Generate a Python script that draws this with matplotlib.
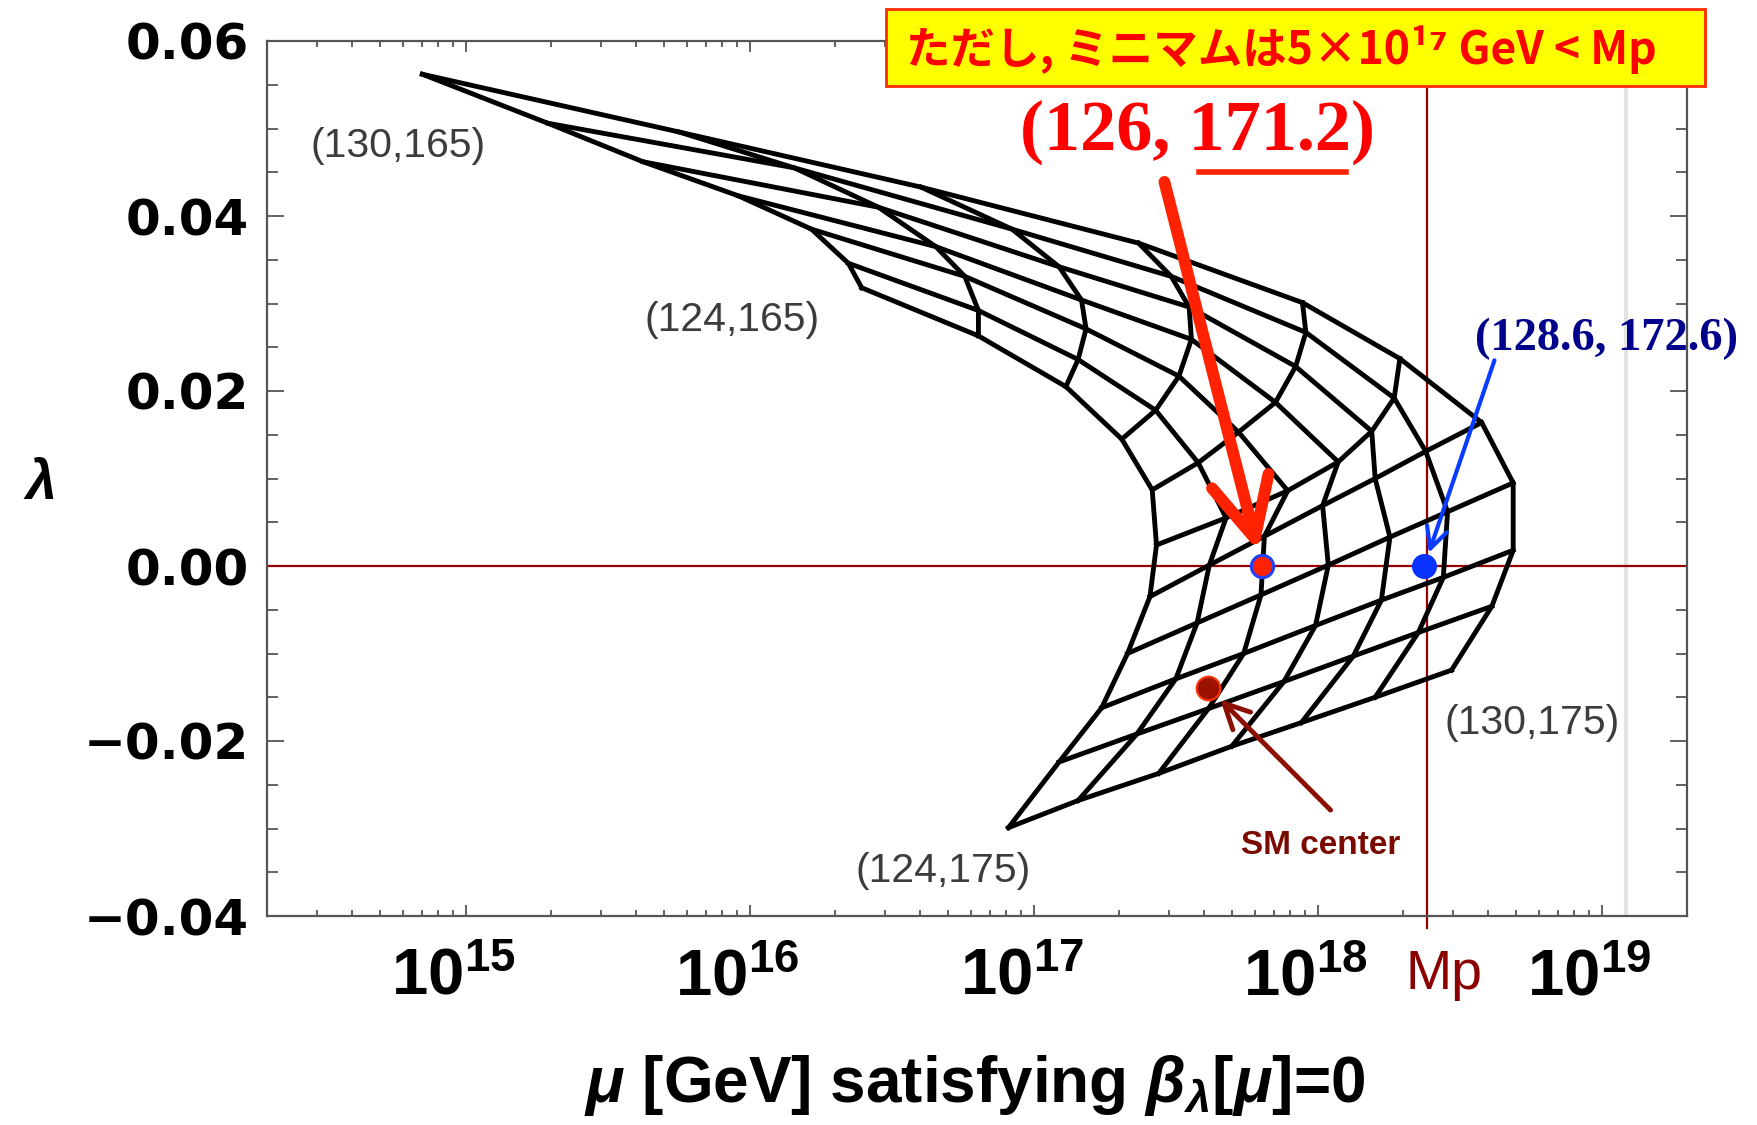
import numpy as np
import matplotlib
matplotlib.use("Agg")
import matplotlib.pyplot as plt
from matplotlib.ticker import FixedLocator, FixedFormatter, LogLocator, NullFormatter, MultipleLocator
from matplotlib.patches import Rectangle
from matplotlib.lines import Line2D
from matplotlib.transforms import ScaledTranslation

plt.rcParams['mathtext.fontset'] = 'custom'
plt.rcParams['mathtext.rm'] = 'Liberation Sans:bold'
plt.rcParams['mathtext.bf'] = 'Liberation Sans:bold'
plt.rcParams['mathtext.it'] = 'Liberation Sans:bold:italic'
plt.rcParams['mathtext.sf'] = 'Liberation Sans:bold'

# Scan of Higgs mass (columns) and top mass (rows), in GeV
higgs_mass = [124, 125, 126, 127, 128, 129, 130]
top_mass = [165, 166, 167, 168, 169, 170, 171, 172, 173, 174, 175]

# log10(mu/GeV) where beta_lambda(mu) = 0
log_mu = np.array([
    [16.395, 16.348, 16.218, 15.961, 15.625, 15.290, 14.848],
    [16.806, 16.806, 16.758, 16.656, 16.454, 16.158, 15.752],
    [17.114, 17.157, 17.185, 17.169, 17.090, 16.924, 16.604],
    [17.311, 17.430, 17.512, 17.556, 17.548, 17.485, 17.370],
    [17.418, 17.580, 17.722, 17.852, 17.923, 17.959, 17.947],
    [17.433, 17.678, 17.895, 18.073, 18.191, 18.270, 18.290],
    [17.410, 17.619, 17.813, 18.018, 18.203, 18.381, 18.578],
    [17.331, 17.576, 17.801, 18.038, 18.255, 18.458, 18.689],
    [17.240, 17.501, 17.740, 17.993, 18.225, 18.443, 18.689],
    [17.090, 17.364, 17.616, 17.882, 18.126, 18.355, 18.614],
    [16.912, 17.157, 17.441, 17.698, 17.943, 18.203, 18.472],
])

# lambda at that scale
lam_min = np.array([
    [0.0318, 0.0346, 0.0385, 0.0423, 0.0462, 0.0506, 0.0562],
    [0.0263, 0.0292, 0.0331, 0.0365, 0.0410, 0.0455, 0.0496],
    [0.0205, 0.0236, 0.0271, 0.0304, 0.0342, 0.0385, 0.0433],
    [0.0145, 0.0178, 0.0217, 0.0259, 0.0296, 0.0331, 0.0369],
    [0.0087, 0.0118, 0.0153, 0.0187, 0.0228, 0.0267, 0.0301],
    [0.0024, 0.0055, 0.0086, 0.0119, 0.0154, 0.0192, 0.0237],
    [-0.0035, 0.0001, 0.0034, 0.0069, 0.0100, 0.0131, 0.0164],
    [-0.0100, -0.0065, -0.0033, 0.0001, 0.0033, 0.0062, 0.0095],
    [-0.0162, -0.0129, -0.0100, -0.0068, -0.0039, -0.0013, 0.0018],
    [-0.0224, -0.0192, -0.0163, -0.0132, -0.0103, -0.0076, -0.0046],
    [-0.0299, -0.0268, -0.0237, -0.0206, -0.0179, -0.0150, -0.0119],
])

# Highlighted parameter points: (log10 mu, lambda)
ref_point_log_mu, ref_point_lam = 17.804, 0.0        # (126, 171.2)
alt_point_log_mu, alt_point_lam = 18.376, 0.0        # (128.6, 172.6)
sm_center_log_mu, sm_center_lam = 17.616, -0.0139    # SM center

reduced_planck_mass = 2.435e18
planck_mass = 1.22e19

x_tick_values = [1e15, 1e16, 1e17, 1e18, 1e19]
x_tick_labels = [r'$\mathbf{10^{15}}$', r'$\mathbf{10^{16}}$', r'$\mathbf{10^{17}}$',
                 r'$\mathbf{10^{18}}$', r'$\mathbf{10^{19}}$']
y_tick_values = [-0.04, -0.02, 0.0, 0.02, 0.04, 0.06]
y_tick_labels = ['\u22120.04', '\u22120.02', '0.00', '0.02', '0.04', '0.06']

corner_labels = ['(130,165)', '(124,165)', '(124,175)', '(130,175)']

W, H = 1758, 1125


def fx(px):
    return px / W


def fy(py):
    return 1 - py / H


fig = plt.figure(figsize=(W / 100, H / 100), dpi=100)
ax = fig.add_axes([fx(267), 209 / H, 1420 / W, 875 / H])

ax.set_xscale('log')
ax.set_xlim(2e14, 2e19)
ax.set_ylim(-0.04, 0.06)

# mesh: lines of constant top mass and of constant Higgs mass
mu = 10.0 ** log_mu
for i in range(len(top_mass)):
    ax.plot(mu[i], lam_min[i], color='black', lw=3.5, zorder=3)
for j in range(len(higgs_mass)):
    ax.plot(mu[:, j], lam_min[:, j], color='black', lw=3.5, zorder=3)

# reference lines
ax.axhline(0.0, color='#990000', lw=1.6, zorder=2)
ax.axvline(reduced_planck_mass, ymin=-0.014, ymax=0.949, color='#990000', lw=1.6,
           clip_on=False, zorder=2)
ax.axvline(planck_mass, color='#e4e4e4', lw=3, zorder=1)

# axes styling
ax.xaxis.set_major_locator(FixedLocator(x_tick_values))
ax.xaxis.set_major_formatter(FixedFormatter(x_tick_labels))
ax.xaxis.set_minor_locator(LogLocator(base=10, subs=np.arange(2, 10), numticks=30))
ax.xaxis.set_minor_formatter(NullFormatter())
ax.yaxis.set_major_locator(FixedLocator(y_tick_values))
ax.yaxis.set_major_formatter(FixedFormatter(y_tick_labels))
ax.yaxis.set_minor_locator(MultipleLocator(0.005))

ax.tick_params(which='both', direction='in', top=True, right=True, color='#555555', width=1.3)
ax.tick_params(axis='x', which='major', length=8, pad=21, labelsize=47)
ax.tick_params(axis='x', which='minor', length=4.5)
ax.tick_params(axis='y', which='major', length=12, pad=13, labelsize=36)
ax.tick_params(axis='y', which='minor', length=8)
for lab in ax.get_yticklabels():
    lab.set_fontfamily('DejaVu Sans')
    lab.set_fontweight('bold')
shift = ScaledTranslation(-0.12, 0, fig.dpi_scale_trans)
for lab in ax.xaxis.get_majorticklabels():
    lab.set_transform(lab.get_transform() + shift)
for sp in ax.spines.values():
    sp.set_color('#555555')
    sp.set_linewidth(1.6)

# corner labels of the scan
corner_pos = [(10 ** 14.761, 0.0480), (10 ** 15.940, 0.0281),
              (10 ** 16.680, -0.0349), (10 ** 18.757, -0.0179)]
for txt, (xx, yy) in zip(corner_labels, corner_pos):
    ax.text(xx, yy, txt, ha='center', va='center', fontsize=29.5,
            family='Liberation Sans', color='#3c3c3c', zorder=4)

# highlighted points
ax.plot(10 ** sm_center_log_mu, sm_center_lam, 'o', ms=17, mfc='#9b1300', mec='#ff3300',
        mew=1.5, zorder=6)
ax.plot(10 ** ref_point_log_mu, ref_point_lam, 'o', ms=16, mfc='#ff2200', mec='#2040ff',
        mew=2.2, zorder=6)
ax.plot(10 ** alt_point_log_mu, alt_point_lam, 'o', ms=17, mfc='#0a32ff', mec='#0a32ff',
        zorder=6)

# arrows
ax.annotate('', xy=(10 ** ref_point_log_mu, ref_point_lam), xytext=(10 ** 17.461, 0.0439),
            arrowprops=dict(arrowstyle='->,head_length=0.85,head_width=0.42', mutation_scale=50,
                            lw=8.5, color='#ff2200', shrinkA=0, shrinkB=11,
                            capstyle='round', joinstyle='round'), zorder=7)
ax.annotate('', xy=(10 ** alt_point_log_mu, alt_point_lam), xytext=(10 ** 18.623, 0.0235),
            arrowprops=dict(arrowstyle='->,head_length=0.75,head_width=0.38', mutation_scale=20,
                            lw=3, color='#0a3cff', shrinkA=0, shrinkB=10,
                            capstyle='round', joinstyle='round'), zorder=7)
ax.annotate('', xy=(10 ** sm_center_log_mu, sm_center_lam), xytext=(10 ** 18.046, -0.0279),
            arrowprops=dict(arrowstyle='->,head_length=0.9,head_width=0.45', mutation_scale=20,
                            lw=3.5, color='#8b0e00', shrinkA=0, shrinkB=12,
                            capstyle='round', joinstyle='round'), zorder=7)

# annotation texts
fig.text(fx(1197), fy(132), '(126, 171.2)', ha='center', va='center', fontsize=52,
         family='Liberation Serif', weight='bold', color='#ff0000', zorder=8)
fig.add_artist(Line2D([fx(1199), fx(1346)], [fy(172), fy(172)], transform=fig.transFigure,
                      color='#ff2200', lw=4, zorder=8))
fig.text(fx(1607), fy(339), '(128.6, 172.6)', ha='center', va='center', fontsize=33.5,
         family='Liberation Serif', weight='bold', color='#00008b', zorder=8)
fig.text(fx(1321), fy(845), 'SM center', ha='center', va='center', fontsize=24,
         family='Liberation Sans', weight='bold', color='#7a0a00', zorder=8)
fig.text(fx(1444), fy(975), 'Mp', ha='center', va='center', fontsize=40,
         family='Liberation Sans', color='#8b0000', zorder=8)

# boxed note at the top
fig.add_artist(Rectangle((fx(886), fy(86)), (1705 - 886) / W, 77 / H, transform=fig.transFigure,
                         facecolor='#ffff00', edgecolor='#ff2a00', lw=2, zorder=9))
fig.text(fx(1281), fy(50), 'ただし, ミニマムは5×10¹⁷ GeV < Mp', ha='center', va='center',
         fontsize=32, family=['Noto Sans CJK JP', 'DejaVu Sans'], weight='bold',
         color='#ff0000', zorder=10)

# axis labels
fig.text(fx(39), fy(484), r'$\lambda$', ha='center', va='center', fontsize=40)
fig.text(fx(975), fy(1085), r'$\mu$ [GeV] satisfying $\beta_{\lambda}[\mu]$=0', ha='center',
         va='center', fontsize=46, family='Liberation Sans', weight='bold')

fig.savefig('out.png', dpi=100)
